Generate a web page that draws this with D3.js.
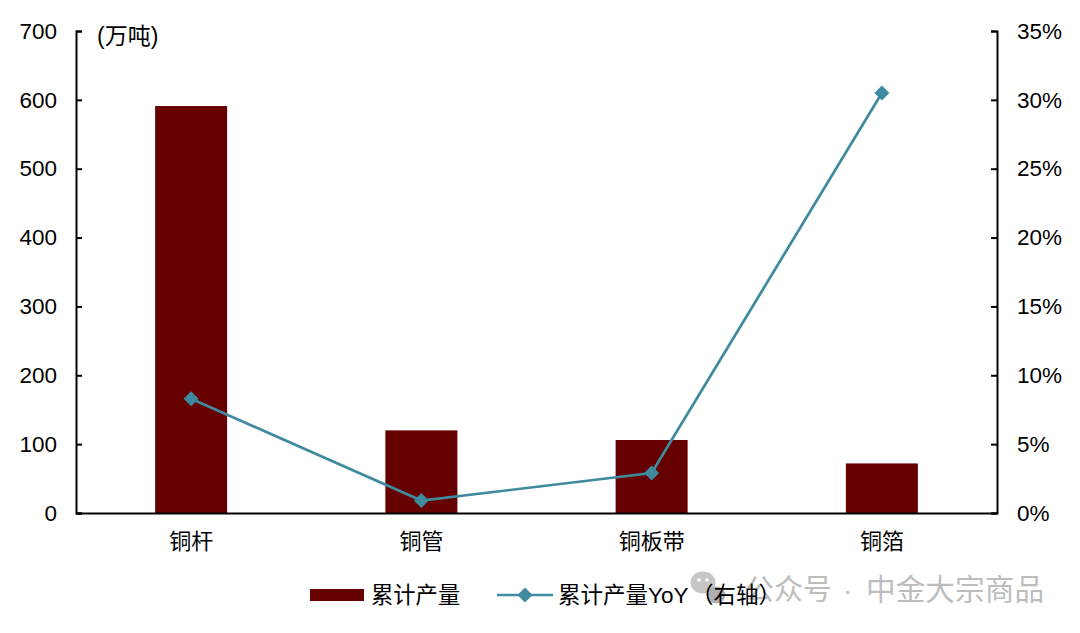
<!DOCTYPE html>
<html><head><meta charset="utf-8">
<style>html,body{margin:0;padding:0;background:#fff}svg{display:block}
text{font-family:"Liberation Sans","Noto Sans CJK SC",sans-serif;fill:#000}</style>
<script src="https://cdn.jsdelivr.net/npm/d3@7"></script></head><body>
<svg id="c" width="1080" height="633"></svg>
<script>
const categories=["铜杆","铜管","铜板带","铜箔"];
const output=[591,120,106,72];
const yoy=[8.3,0.9,2.9,30.5];
const leftTicks=[0,100,200,300,400,500,600,700];
const rightTicks=[0,5,10,15,20,25,30,35];
const barName="累计产量",lineNameA="累计产量YoY",lineNameB="（右轴）",unit="(万吨)";
const wmA="公众号",wmDot="·",wmB="中金大宗商品";
const barColor="#660000",lineColor="#3f8a9f";
const svg=d3.select("#c");
const L=76,R=997,T=31,B=513;
const x=d3.scaleBand().domain(categories).range([L,R]);
const bw=72;
const yL=d3.scaleLinear().domain([0,700]).range([B,T]);
const yR=d3.scaleLinear().domain([0,35]).range([B,T]);
const fs=22.5;
svg.append("g").selectAll("rect").data(categories).join("rect")
 .attr("x",d=>x(d)+x.bandwidth()/2-bw/2).attr("width",bw)
 .attr("y",(d,i)=>yL(output[i])).attr("height",(d,i)=>B-yL(output[i])).attr("fill",barColor);
function style(g){g.select(".domain").attr("stroke","#000").attr("stroke-width",2);
 g.selectAll("line").attr("stroke","#000").attr("stroke-width",2);
 g.selectAll("text").style("font-size",fs+"px").attr("fill","#000");}
const gl=svg.append("g").attr("transform",`translate(${L},0)`).call(d3.axisLeft(yL).tickValues(leftTicks).tickSize(-6).tickSizeOuter(-6).tickPadding(19));
style(gl);
const gr=svg.append("g").attr("transform",`translate(${R},0)`).call(d3.axisRight(yR).tickValues(rightTicks).tickFormat(d=>d+"%").tickSize(-6).tickSizeOuter(-6).tickPadding(20));
style(gr);
const gb=svg.append("g").attr("transform",`translate(0,${B})`).call(d3.axisBottom(x).tickSize(0).tickPadding(20));
style(gb);
gb.selectAll("text").attr("dy","0.71em").style("font-size","22px");
const line=d3.line().x((d,i)=>x(categories[i])+x.bandwidth()/2).y(d=>yR(d));
svg.append("path").attr("d",line(yoy)).attr("fill","none").attr("stroke",lineColor).attr("stroke-width",2.7);
svg.append("g").selectAll("path").data(yoy).join("path")
 .attr("transform",(d,i)=>`translate(${x(categories[i])+x.bandwidth()/2},${yR(d)})`)
 .attr("d","M0,-7.5L7.5,0L0,7.5L-7.5,0Z").attr("fill",lineColor);
svg.append("text").attr("x",97).attr("y",44).style("font-size","23px").text(unit);
// watermark (below the legend text)
const wm=svg.append("g");
wm.append("ellipse").attr("cx",703).attr("cy",582.5).attr("rx",12.5).attr("ry",11).attr("fill","#c6c6c6");
wm.append("ellipse").attr("cx",699).attr("cy",580).attr("rx",1.8).attr("ry",1.8).attr("fill","#fff");
wm.append("ellipse").attr("cx",707).attr("cy",580).attr("rx",1.8).attr("ry",1.8).attr("fill","#fff");
wm.append("ellipse").attr("cx",716).attr("cy",595).attr("rx",9.5).attr("ry",8.5).attr("fill","#b0b0b0");
wm.append("text").attr("x",745).attr("y",600).style("font-size","29px").style("fill","#bdbdbd").text(wmA);
wm.append("text").attr("x",843).attr("y",600).style("font-size","28px").style("fill","#bdbdbd").text(wmDot);
wm.append("text").attr("x",866).attr("y",600).style("font-size","29.7px").style("fill","#bdbdbd").text(wmB);
// legend
svg.append("rect").attr("x",310).attr("y",589).attr("width",54).attr("height",12).attr("fill",barColor);
svg.append("text").attr("x",371).attr("y",603).style("font-size","22.3px").text(barName);
svg.append("line").attr("x1",497).attr("x2",553).attr("y1",595).attr("y2",595).attr("stroke",lineColor).attr("stroke-width",2.7);
svg.append("path").attr("transform","translate(525,595)").attr("d","M0,-7.5L7.5,0L0,7.5L-7.5,0Z").attr("fill",lineColor);
svg.append("text").attr("x",558).attr("y",603).style("font-size","22.5px").text(lineNameA);
svg.append("text").attr("x",691).attr("y",603).style("font-size","22.5px").text(lineNameB);
</script></body></html>
